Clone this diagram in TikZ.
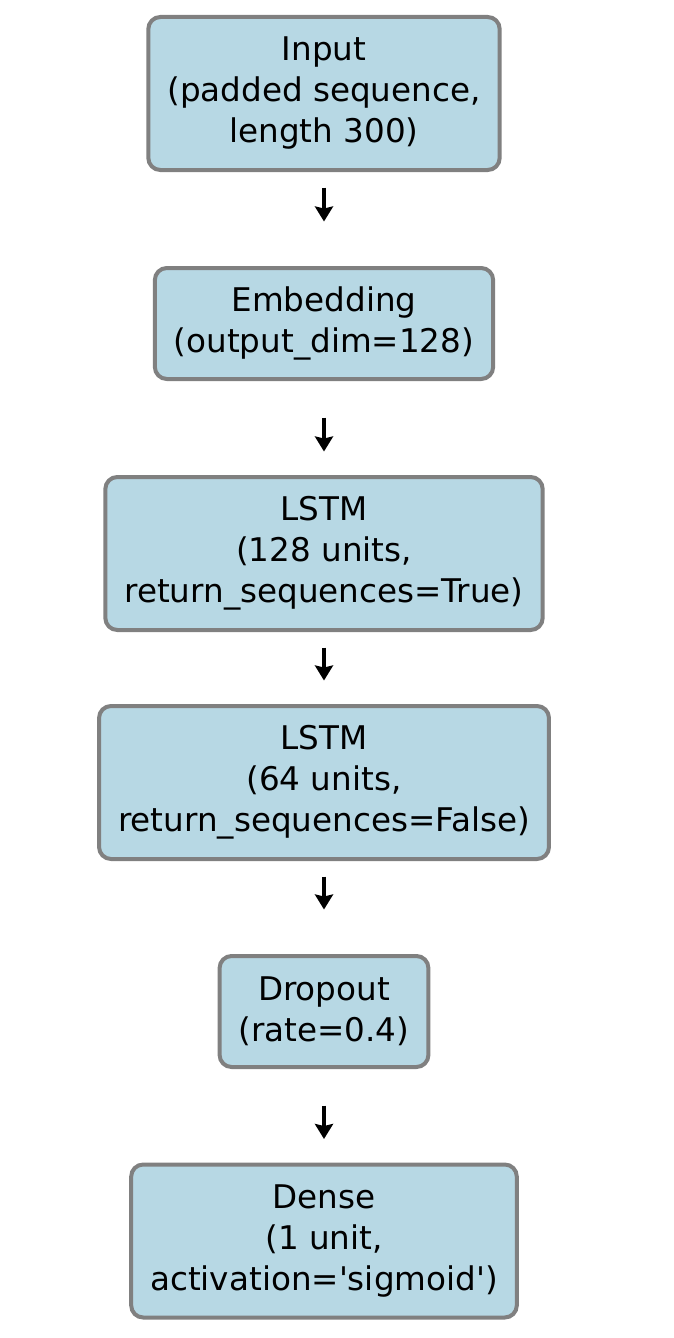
\documentclass[tikz,border=0pt]{standalone}
\usepackage{fontspec}
\setmainfont{DejaVu Sans}
\usetikzlibrary{arrows.meta}
\definecolor{boxfill}{RGB}{183,216,228}
\definecolor{boxedge}{RGB}{128,128,128}

\begin{document}
\begin{tikzpicture}[
    layer/.style={draw=boxedge,line width=2pt,fill=boxfill,rounded corners=6pt,
      align=center,inner xsep=9.5pt,inner ysep=0pt,
      font=\fontsize{16.3pt}{20.5pt}\selectfont},
    threeline/.style={layer,minimum height=76.5pt},
    twoline/.style={layer,minimum height=55.5pt},
    flow/.style={line width=1.9pt,-{Stealth[length=7.5pt,width=9pt,inset=1pt]},
      shorten <=47pt,shorten >=51pt}
  ]
  \useasboundingbox (0,0) rectangle (337pt,-669pt);
  %\draw[help lines] (0,0) grid (12,-24);
  \node[threeline] (input) at (162pt,-46.75pt) {Input\\(padded sequence,\\length 300)};
  \node[twoline] (embed) at (162pt,-161.75pt) {Embedding\\(output\_dim=128)};
  \node[threeline] (lstma) at (162pt,-276.75pt) {LSTM\\(128 units,\\return\_sequences=True)};
  \node[threeline] (lstmb) at (162pt,-391.25pt) {LSTM\\(64 units,\\return\_sequences=False)};
  \node[twoline] (drop) at (162pt,-505.75pt) {Dropout\\(rate=0.4)};
  \node[threeline] (dense) at (162pt,-620.5pt) {Dense\\(1 unit,\\activation=\textquotesingle sigmoid\textquotesingle)};

  \draw[flow] (input.center) -- (embed.center);
  \draw[flow] (embed.center) -- (lstma.center);
  \draw[flow] (lstma.center) -- (lstmb.center);
  \draw[flow] (lstmb.center) -- (drop.center);
  \draw[flow] (drop.center) -- (dense.center);
\end{tikzpicture}
\end{document}
